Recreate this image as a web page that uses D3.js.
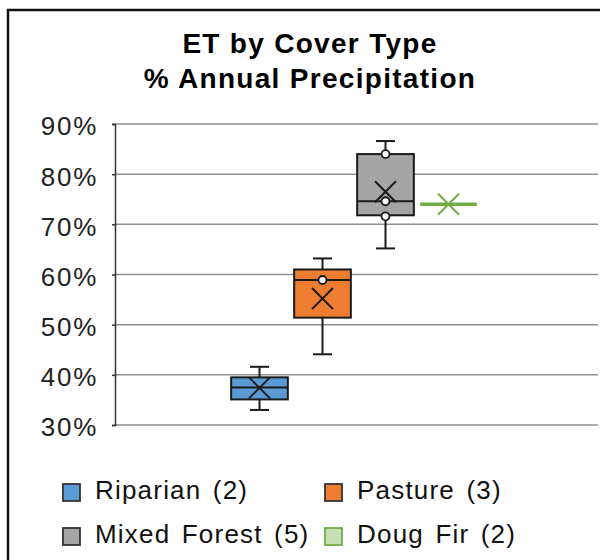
<!DOCTYPE html>
<html lang="en">
<head>
<meta charset="utf-8">
<script src="https://cdn.jsdelivr.net/npm/d3@7"></script>
<style>
  body { margin: 0; background: #fff; }
  svg text { font-family: "Liberation Sans", Arial, sans-serif; }
</style>
</head>
<body>
<script>
// data (fractions of annual precipitation)
var series   = ["Riparian (2)", "Pasture (3)", "Mixed Forest (5)", "Doug Fir (2)"];
var fills    = ["#5B9BD5", "#ED7D31", "#A5A5A5", "#C5E0B4"];
var strokes  = ["#1a1a1a", "#1a1a1a", "#1a1a1a", "#70AD47"];
var mins     = [0.330, 0.441, 0.652, 0.740];
var q1s      = [0.351, 0.514, 0.718, 0.740];
var medians  = [0.375, 0.589, 0.746, 0.740];
var q3s      = [0.395, 0.610, 0.840, 0.740];
var maxs     = [0.416, 0.632, 0.866, 0.740];
var means    = [0.374, 0.552, 0.765, 0.740];
var innerPts = [[], [0.589], [0.840, 0.746, 0.716], []];
var yTicks   = [0.3, 0.4, 0.5, 0.6, 0.7, 0.8, 0.9];
var titleLines = ["ET by Cover Type", "% Annual Precipitation"];

var W = 600, H = 560;
var plot = {left: 115, right: 598, top: 124, bottom: 425};

var svg = d3.select("body").append("svg")
  .attr("width", W).attr("height", H);

// chart border
svg.append("rect")
  .attr("x", 8).attr("y", 10).attr("width", 640).attr("height", 620)
  .attr("fill", "#fff").attr("stroke", "#111").attr("stroke-width", 2.5);

// title
svg.append("g").selectAll("text").data(titleLines).enter().append("text")
  .attr("x", 310).attr("y", function(d, i) { return 53 + i * 35; })
  .attr("text-anchor", "middle")
  .style("font-size", "28px").style("font-weight", "bold")
  .style("letter-spacing", "1.3px").attr("fill", "#000")
  .text(function(d) { return d; });

var y = d3.scaleLinear().domain([0.3, 0.9]).range([plot.bottom, plot.top]);
var x = d3.scaleBand().domain(series).range([228, 480])
  .paddingInner(0.1).paddingOuter(0.05);

// gridlines
svg.append("g").selectAll("line").data(yTicks).enter().append("line")
  .attr("x1", plot.left).attr("x2", plot.right)
  .attr("y1", function(d) { return y(d); })
  .attr("y2", function(d) { return y(d); })
  .attr("stroke", "#8e8e8e").attr("stroke-width", 1.5);

// y axis
var yAxis = d3.axisLeft(y).tickValues(yTicks)
  .tickFormat(d3.format(".0%")).tickSize(3).tickPadding(14);
var ax = svg.append("g")
  .attr("transform", "translate(" + plot.left + ",0)")
  .call(yAxis);
ax.select(".domain").attr("stroke", "#333").attr("stroke-width", 1.5);
ax.selectAll(".tick line").attr("stroke", "#333").attr("stroke-width", 1.5);
ax.selectAll(".tick text")
  .attr("dy", "0.42em").attr("fill", "#222")
  .style("font-size", "26px").style("letter-spacing", "1.7px")
  .style("font-family", "'Liberation Sans', Arial, sans-serif");

// boxes
var boxes = svg.append("g").selectAll("g").data(series).enter().append("g");

boxes.each(function(s, i) {
  var g = d3.select(this);
  var cx = x(s) + x.bandwidth() / 2;
  var bw = x.bandwidth();
  var flat = q1s[i] === q3s[i];

  if (!flat) {
    // whiskers
    g.append("line").attr("x1", cx).attr("x2", cx)
      .attr("y1", y(maxs[i])).attr("y2", y(q3s[i]))
      .attr("stroke", strokes[i]).attr("stroke-width", 2);
    g.append("line").attr("x1", cx).attr("x2", cx)
      .attr("y1", y(q1s[i])).attr("y2", y(mins[i]))
      .attr("stroke", strokes[i]).attr("stroke-width", 2);
    [mins[i], maxs[i]].forEach(function(v) {
      g.append("line").attr("x1", cx - 9.5).attr("x2", cx + 9.5)
        .attr("y1", y(v)).attr("y2", y(v))
        .attr("stroke", strokes[i]).attr("stroke-width", 2);
    });
    g.append("rect")
      .attr("x", x(s)).attr("width", bw)
      .attr("y", y(q3s[i])).attr("height", y(q1s[i]) - y(q3s[i]))
      .attr("fill", fills[i]).attr("stroke", strokes[i]).attr("stroke-width", 2);
  }

  // median
  g.append("line").attr("x1", x(s)).attr("x2", x(s) + bw)
    .attr("y1", y(medians[i])).attr("y2", y(medians[i]))
    .attr("stroke", flat ? "#70AD47" : strokes[i])
    .attr("stroke-width", flat ? 3.5 : 2);

  // inner points
  g.selectAll("circle").data(innerPts[i]).enter().append("circle")
    .attr("cx", cx).attr("cy", function(d) { return y(d); })
    .attr("r", 4).attr("fill", "#fff")
    .attr("stroke", strokes[i]).attr("stroke-width", 1.8);

  // mean marker
  g.append("path")
    .attr("d", d3.symbol(d3.symbolX, 290)())
    .attr("transform", "translate(" + cx + "," + y(means[i]) + ")")
    .attr("fill", "none")
    .attr("stroke", flat ? "#70AD47" : strokes[i])
    .attr("stroke-width", 2);
});

// legend
var legX = [63, 325], legY = [484, 528];
var leg = svg.append("g").selectAll("g").data(series).enter().append("g")
  .attr("transform", function(d, i) {
    return "translate(" + legX[i % 2] + "," + legY[Math.floor(i / 2)] + ")";
  });
leg.append("rect")
  .attr("width", 17).attr("height", 17)
  .attr("fill", function(d, i) { return fills[i]; })
  .attr("stroke", function(d, i) { return i === 3 ? "#70AD47" : "#333"; })
  .attr("stroke-width", 1.8);
leg.append("text")
  .attr("x", 32).attr("y", 14.5)
  .style("font-size", "26px").style("letter-spacing", "1.2px")
  .style("word-spacing", "3px")
  .attr("fill", "#111")
  .text(function(d) { return d; });
</script>
</body>
</html>
